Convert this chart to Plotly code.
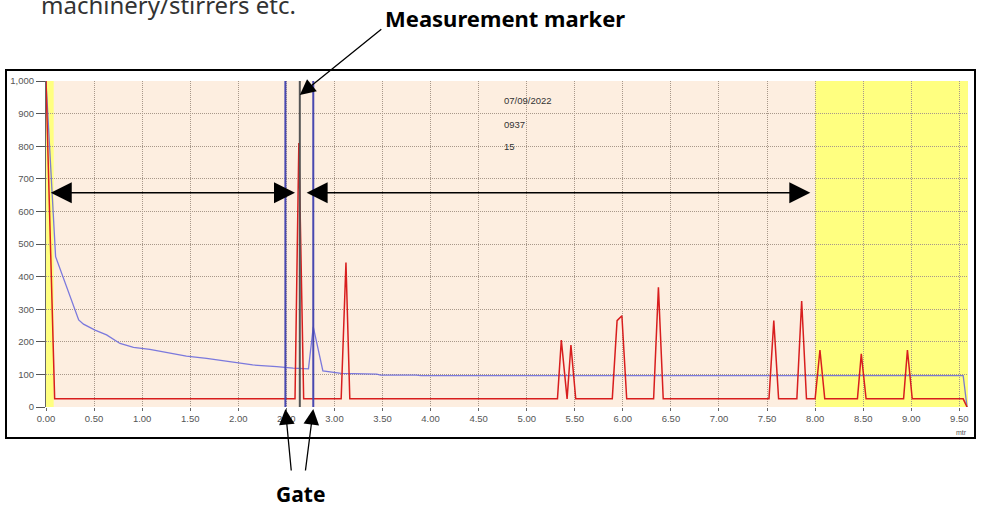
import plotly.graph_objects as go

# -----------------------------
# DATA
# -----------------------------
red_x = [0.00, 0.09, 2.59, 2.63, 2.68, 3.07, 3.12, 3.16, 5.32, 5.36, 5.42, 5.46, 5.51,
         5.89, 5.94, 5.99, 6.04, 6.32, 6.37, 6.42, 7.52, 7.57, 7.62, 7.81, 7.86, 7.91,
         8.00, 8.05, 8.10, 8.44, 8.48, 8.53, 8.92, 8.96, 9.01, 9.54, 9.58]
red_y = [1000, 25, 25, 810, 25, 25, 443, 25, 25, 205, 25, 190, 25,
         25, 265, 280, 25, 25, 367, 25, 25, 265, 25, 25, 325, 25,
         25, 175, 25, 25, 163, 25, 25, 175, 25, 25, 0]

blue_x = [0.00, 0.10, 0.34, 0.39, 0.51, 0.63, 0.77, 0.91, 1.08, 1.25, 1.46, 1.67, 1.95,
          2.15, 2.40, 2.57, 2.73, 2.78, 2.88, 3.07, 3.44, 3.48, 3.85, 3.90, 9.54, 9.58]
blue_y = [1000, 461, 267, 254, 236, 221, 195, 183, 177, 168, 156, 149, 137,
          129, 124, 119, 117, 246, 111, 103, 101, 98, 98, 96, 96, 0]

gate_x = [2.49, 2.78]
marker_x = 2.64
yellow_zones = [(0.0, 0.08), (8.0, 9.59)]
info_lines = ["07/09/2022", "0937", "15"]
info_y = [939, 868, 798]
x_ticks = [i * 0.5 for i in range(20)]

X_MAX = 9.59
W, H = 981, 508
ML, MR, MT, MB = 46, 13, 81, 101


def px_x(p):
    return (p - ML) / (W - ML - MR)


def px_y(p):
    return (H - MB - p) / (H - MT - MB)


fig = go.Figure()

fig.add_trace(go.Scatter(x=blue_x, y=blue_y, mode="lines",
                         line=dict(color="rgba(100,100,220,0.85)", width=1.3),
                         hoverinfo="skip"))
fig.add_trace(go.Scatter(x=red_x, y=red_y, mode="lines",
                         line=dict(color="#d81e1e", width=1.5),
                         hoverinfo="skip"))

# yellow zones under the grid
for x0, x1 in yellow_zones:
    fig.add_shape(type="rect", xref="x", yref="y", x0=x0, x1=x1, y0=0, y1=1000,
                  fillcolor="#ffff80", line_width=0, layer="below")

# gate lines + measurement marker
for gx in gate_x:
    fig.add_shape(type="line", xref="x", yref="y", x0=gx, x1=gx, y0=0, y1=1000,
                  line=dict(color="#4848b0", width=2))
fig.add_shape(type="line", xref="x", yref="y", x0=marker_x, x1=marker_x, y0=0, y1=1000,
              line=dict(color="#555555", width=2))

# outer frame
fig.add_shape(type="rect", xref="paper", yref="paper",
              x0=px_x(6), x1=px_x(975), y0=px_y(438), y1=px_y(70),
              line=dict(color="black", width=2))

# double-headed span arrows
for xa, xb in [(0.034, 2.59), (2.695, 7.95)]:
    fig.add_annotation(x=xb, y=657, ax=xa, ay=657, axref="x", ayref="y",
                       xref="x", yref="y", text="", showarrow=True,
                       arrowhead=2, startarrowhead=2, arrowside="end+start",
                       arrowsize=2.8, startarrowsize=2.8, arrowwidth=1.5, arrowcolor="black")

# info text inside the plot
for txt, yy in zip(info_lines, info_y):
    fig.add_annotation(x=4.74, y=yy, xref="x", yref="y", text=txt, showarrow=False,
                       xanchor="left", yanchor="middle",
                       font=dict(family="Liberation Sans, Arial", size=9.5, color="#333333"))

# measurement marker callout
fig.add_annotation(x=marker_x, y=957, xref="x", yref="y", ax=83, ay=-67,
                   text="", showarrow=True, arrowhead=2, arrowsize=2.4, arrowwidth=1.3,
                   arrowcolor="black")
fig.add_annotation(x=px_x(505), y=px_y(18), xref="paper", yref="paper",
                   text="<b>Measurement marker</b>", showarrow=False,
                   xanchor="center", yanchor="middle",
                   font=dict(family="Noto Sans", size=22, color="black"))

# gate callouts (paper y so they are not hidden below the axis range)
for gx, dx in zip(gate_x, [6, -8]):
    fig.add_annotation(x=gx, y=px_y(409), xref="x", yref="paper", ax=dx, ay=63,
                       text="", showarrow=True, arrowhead=2, arrowsize=2.4, arrowwidth=1.3,
                       arrowcolor="black")
fig.add_annotation(x=px_x(300), y=px_y(494), xref="paper", yref="paper",
                   text="<b>Gate</b>", showarrow=False,
                   xanchor="center", yanchor="middle", borderpad=0,
                   font=dict(family="Noto Sans", size=21, color="black"))

# caption running off the top of the screenshot
fig.add_annotation(x=px_x(39), y=px_y(4), xref="paper", yref="paper",
                   text="machinery/stirrers etc.", showarrow=False,
                   xanchor="left", yanchor="middle",
                   font=dict(family="Noto Sans", size=24, color="#333333"))

fig.add_annotation(x=px_x(961), y=px_y(432), xref="paper", yref="paper",
                   text="mtr", showarrow=False, xanchor="center", yanchor="middle",
                   font=dict(family="Liberation Sans, Arial", size=7, color="#555555"))

fig.update_layout(
    width=W, height=H,
    margin=dict(l=ML, r=MR, t=MT, b=MB, autoexpand=False),
    paper_bgcolor="white",
    plot_bgcolor="#fdeee0",
    showlegend=False,
)
fig.update_xaxes(range=[0, X_MAX], tickvals=x_ticks, tickformat=".2f", automargin=False,
                 showgrid=True, gridcolor="#a8988a", griddash="1px,1px", gridwidth=1,
                 zeroline=False, ticks="outside", ticklen=3, tickcolor="#666666",
                 tickfont=dict(family="Liberation Sans, Arial", size=9.5, color="#555555"))
fig.update_yaxes(range=[0, 1000], dtick=100, tickformat=",", automargin=False,
                 showgrid=True, gridcolor="#a8988a", griddash="1px,1px", gridwidth=1,
                 zeroline=False, showline=True, linecolor="#666666", linewidth=1,
                 ticks="outside", ticklen=9, tickcolor="#555555",
                 tickfont=dict(family="Liberation Sans, Arial", size=9.5, color="#555555"))

# the page body has a default 8px margin; drop it so the figure sits at 0,0
fig.write_html("out.html", config={"displayModeBar": False},
               post_script="document.body.style.margin='0';")
